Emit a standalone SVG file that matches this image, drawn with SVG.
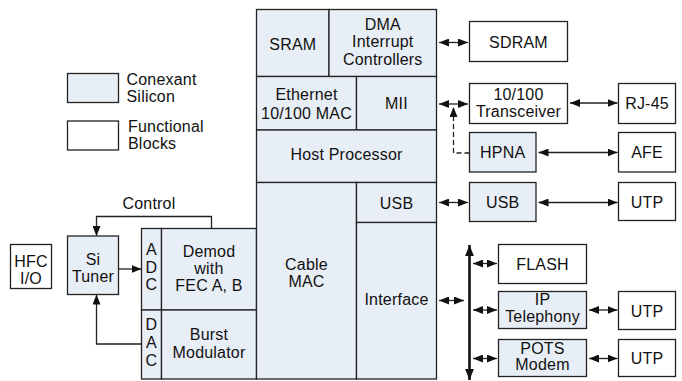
<svg xmlns="http://www.w3.org/2000/svg" width="682" height="381" viewBox="0 0 682 381">
  <style>
    .chip { fill: #e8eef5; stroke: #222; stroke-width: 1.3; }
    .blk { fill: #ffffff; stroke: #222; stroke-width: 1.3; }
    text { font-family: "Liberation Sans", Arial, sans-serif; font-size: 16px; fill: #111; text-anchor: middle; letter-spacing: 0.2px; }
    text.l { text-anchor: start; }
    .wire { fill: none; stroke: #222; stroke-width: 1.3; }
    .dash { fill: none; stroke: #222; stroke-width: 1.3; stroke-dasharray: 5 3; }
    .bus { fill: none; stroke: #111; stroke-width: 2.6; }
  </style>
  <defs>
    <marker id="ah" viewBox="0 0 10 8" refX="10" refY="4" markerWidth="10" markerHeight="8" markerUnits="userSpaceOnUse" orient="auto-start-reverse">
      <path d="M0,0 L10,4 L0,8 z" fill="#111"/>
    </marker>
    <marker id="busah" viewBox="0 0 10 8" refX="10" refY="4" markerWidth="11" markerHeight="9" markerUnits="userSpaceOnUse" orient="auto-start-reverse">
      <path d="M0,0 L10,4 L0,8 z" fill="#111"/>
    </marker>
  </defs>

  <!-- legend -->
  <g id="legend">
    <rect class="chip" x="67.5" y="73.5" width="51" height="29"/>
    <text class="l" x="126.5" y="85">Conexant</text>
    <text class="l" x="126.5" y="101.5">Silicon</text>
    <rect class="blk" x="67.5" y="121" width="51" height="29"/>
    <text class="l" x="128" y="132">Functional</text>
    <text class="l" x="128" y="148.5">Blocks</text>
  </g>

  <!-- connectors -->
  <g id="connectors">
    <!-- control feedback to tuner -->
    <polyline class="wire" points="211.5,228.5 211.5,216.5 96.5,216.5 96.5,236" marker-end="url(#ah)"/>
    <text x="149" y="208.5">Control</text>
    <line class="wire" x1="118.5" y1="269" x2="141.5" y2="269" marker-end="url(#ah)"/>
    <polyline class="wire" points="141.5,344 96.5,344 96.5,294.5" marker-end="url(#ah)"/>

    <!-- main chip to peripherals -->
    <line class="wire" x1="439" y1="42.5" x2="468" y2="42.5" marker-start="url(#ah)" marker-end="url(#ah)"/>
    <line class="wire" x1="439" y1="104" x2="468" y2="104" marker-start="url(#ah)" marker-end="url(#ah)"/>
    <polyline class="dash" points="469.5,153 453.5,153 453.5,107" marker-end="url(#ah)"/>
    <line class="wire" x1="570" y1="103" x2="617.5" y2="103" marker-start="url(#ah)" marker-end="url(#ah)"/>
    <line class="wire" x1="538.5" y1="152.5" x2="617.5" y2="152.5" marker-start="url(#ah)" marker-end="url(#ah)"/>
    <line class="wire" x1="439" y1="202.5" x2="468" y2="202.5" marker-start="url(#ah)" marker-end="url(#ah)"/>
    <line class="wire" x1="538.5" y1="202.5" x2="617.5" y2="202.5" marker-start="url(#ah)" marker-end="url(#ah)"/>

    <!-- local bus -->
    <line class="bus" x1="469.5" y1="245" x2="469.5" y2="380" marker-start="url(#busah)" marker-end="url(#busah)"/>
    <line class="wire" x1="439" y1="300.5" x2="464" y2="300.5" marker-start="url(#ah)" marker-end="url(#ah)"/>
    <line class="wire" x1="473" y1="263.5" x2="497" y2="263.5" marker-start="url(#ah)" marker-end="url(#ah)"/>
    <line class="wire" x1="473" y1="310" x2="497" y2="310" marker-start="url(#ah)" marker-end="url(#ah)"/>
    <line class="wire" x1="473" y1="358.5" x2="497" y2="358.5" marker-start="url(#ah)" marker-end="url(#ah)"/>
    <line class="wire" x1="589" y1="310" x2="617.5" y2="310" marker-start="url(#ah)" marker-end="url(#ah)"/>
    <line class="wire" x1="589" y1="358.5" x2="617.5" y2="358.5" marker-start="url(#ah)" marker-end="url(#ah)"/>
  </g>

  <!-- front end -->
  <g id="hfc">
    <rect class="blk" x="10.5" y="244.5" width="41" height="44"/>
    <text x="31" y="266.5">HFC</text>
    <text x="31" y="283.5">I/O</text>
  </g>
  <g id="tuner">
    <rect class="chip" x="67.5" y="236" width="51" height="58.5"/>
    <text x="93" y="265">Si</text>
    <text x="93" y="281.5">Tuner</text>
  </g>
  <g id="adc">
    <rect class="chip" x="141.5" y="228.5" width="20" height="81.5"/>
    <text x="151.5" y="254.5">A</text>
    <text x="151.5" y="272.5">D</text>
    <text x="151.5" y="290">C</text>
  </g>
  <g id="demod">
    <rect class="chip" x="161.5" y="228.5" width="95" height="81.5"/>
    <text x="209" y="256.5">Demod</text>
    <text x="209" y="273.5">with</text>
    <text x="209" y="291">FEC A, B</text>
  </g>
  <g id="dac">
    <rect class="chip" x="141.5" y="310" width="20" height="69"/>
    <text x="151.5" y="330">D</text>
    <text x="151.5" y="347.5">A</text>
    <text x="151.5" y="365.5">C</text>
  </g>
  <g id="burst">
    <rect class="chip" x="161.5" y="310" width="95" height="69"/>
    <text x="209" y="340">Burst</text>
    <text x="209" y="357.5">Modulator</text>
  </g>

  <!-- main chip -->
  <g id="sram">
    <rect class="chip" x="256.5" y="9.5" width="72.5" height="67"/>
    <text x="292.8" y="50">SRAM</text>
  </g>
  <g id="dma">
    <rect class="chip" x="329" y="9.5" width="107.5" height="67"/>
    <text x="382.8" y="29.5">DMA</text>
    <text x="382.8" y="47">Interrupt</text>
    <text x="382.8" y="64.5">Controllers</text>
  </g>
  <g id="ethernet">
    <rect class="chip" x="256.5" y="76.5" width="100" height="53.5"/>
    <text x="306.5" y="100">Ethernet</text>
    <text x="306.5" y="118.5">10/100 MAC</text>
  </g>
  <g id="mii">
    <rect class="chip" x="356.5" y="76.5" width="80" height="53.5"/>
    <text x="396.5" y="108.5">MII</text>
  </g>
  <g id="host">
    <rect class="chip" x="256.5" y="130" width="180" height="52.5"/>
    <text x="346.5" y="160">Host Processor</text>
  </g>
  <g id="cablemac">
    <rect class="chip" x="256.5" y="182.5" width="100" height="196.5"/>
    <text x="306.5" y="269.5">Cable</text>
    <text x="306.5" y="287">MAC</text>
  </g>
  <g id="usbport">
    <rect class="chip" x="356.5" y="182.5" width="80" height="40"/>
    <text x="396.5" y="208.5">USB</text>
  </g>
  <g id="interface">
    <rect class="chip" x="356.5" y="222.5" width="80" height="156.5"/>
    <text x="396.5" y="305">Interface</text>
  </g>

  <!-- peripherals -->
  <g id="sdram">
    <rect class="blk" x="469.5" y="21.5" width="98" height="40"/>
    <text x="518.5" y="47.5">SDRAM</text>
  </g>
  <g id="transceiver">
    <rect class="blk" x="469.5" y="83.5" width="98" height="40"/>
    <text x="518.5" y="100">10/100</text>
    <text x="518.5" y="116.5">Transceiver</text>
  </g>
  <g id="rj45">
    <rect class="blk" x="618.5" y="83.5" width="57" height="40"/>
    <text x="647" y="108.5">RJ-45</text>
  </g>
  <g id="hpna">
    <rect class="chip" x="469.5" y="132.5" width="66.5" height="39.5"/>
    <text x="502.7" y="158">HPNA</text>
  </g>
  <g id="afe">
    <rect class="blk" x="618.5" y="132.5" width="57" height="39.5"/>
    <text x="647" y="158">AFE</text>
  </g>
  <g id="usb">
    <rect class="chip" x="469.5" y="182.5" width="66.5" height="39"/>
    <text x="502.7" y="207.5">USB</text>
  </g>
  <g id="utp1">
    <rect class="blk" x="618.5" y="182.5" width="57" height="38"/>
    <text x="647" y="207.5">UTP</text>
  </g>
  <g id="flash">
    <rect class="blk" x="498.5" y="244.5" width="88" height="39"/>
    <text x="542.5" y="269.5">FLASH</text>
  </g>
  <g id="iptel">
    <rect class="chip" x="498.5" y="291.5" width="88" height="37"/>
    <text x="542.5" y="305">IP</text>
    <text x="542.5" y="322">Telephony</text>
  </g>
  <g id="utp2">
    <rect class="blk" x="618.5" y="291.5" width="57" height="38"/>
    <text x="647" y="316.5">UTP</text>
  </g>
  <g id="pots">
    <rect class="chip" x="498.5" y="339.5" width="88" height="37"/>
    <text x="542.5" y="353.5">POTS</text>
    <text x="542.5" y="370">Modem</text>
  </g>
  <g id="utp3">
    <rect class="blk" x="618.5" y="339.5" width="57" height="37"/>
    <text x="647" y="364">UTP</text>
  </g>
</svg>
